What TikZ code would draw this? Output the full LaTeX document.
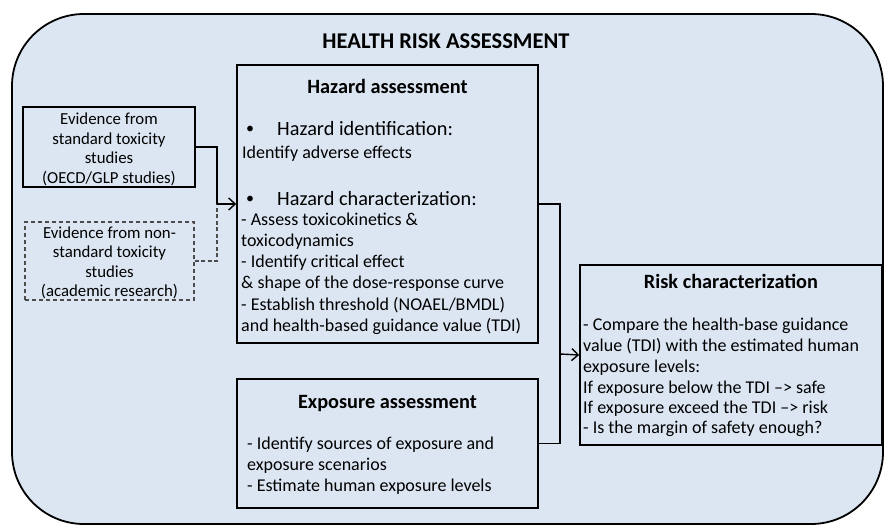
\documentclass[tikz,border=0pt]{standalone}
\usepackage{fontspec}
\usetikzlibrary{arrows.meta}
\setmainfont{Carlito}
\definecolor{panel}{HTML}{DCE6F2}
\begin{document}
\begin{tikzpicture}[x=1pt,y=-1pt,
  frame/.style={draw=black,line width=1.8pt,fill=panel},
  box/.style={draw=black,line width=1.6pt,fill=panel,rectangle,inner sep=0pt},
  srcbox/.style={draw=black,line width=1.4pt,fill=panel,rectangle,inner sep=0pt},
  dashbox/.style={draw=black!70,line width=1.1pt,dash pattern=on 4pt off 3pt,fill=panel,rectangle,inner sep=0pt},
  link/.style={draw=black,line width=1.4pt},
  dlink/.style={draw=black!70,line width=1.3pt,dash pattern=on 4pt off 2.5pt},
  tip/.style={-{Straight Barb[length=6.5pt,width=12pt,line width=1.4pt]}},
  txt/.style={inner sep=0pt,anchor=base west,font=\fontsize{18}{21}\selectfont},
  bul/.style={inner sep=0pt,anchor=base west,font=\fontsize{20.3}{24}\selectfont},
  dot/.style={inner sep=0pt,anchor=base west,font=\fontsize{16}{20}\selectfont},
  head/.style={inner sep=0pt,anchor=base,font=\fontsize{20.3}{24}\selectfont\bfseries},
  src/.style={inner sep=0pt,anchor=base,font=\fontsize{16.8}{20}\selectfont}]
\useasboundingbox (0,0) rectangle (885,525);

% outer panel
\draw[frame,rounded corners=72pt] (12,14) rectangle (883,524);
\node[head,font=\fontsize{22.5}{26}\selectfont\bfseries] (title) at (446,48) {HEALTH RISK ASSESSMENT};

% boxes
\node[srcbox,minimum width=172pt,minimum height=80pt] (std) at (109,147) {};
\node[dashbox,minimum width=169pt,minimum height=78pt] (dsh) at (109.5,261) {};
\node[box,minimum width=301pt,minimum height=278pt] (haz) at (387.5,204) {};
\node[box,minimum width=301pt,minimum height=129pt] (exp) at (387.5,443.5) {};
\node[box,minimum width=302pt,minimum height=180pt] (risk) at (731,355) {};

% evidence texts
\node[src] (s1) at (109,124) {Evidence from};
\node[src] (s2) at (109,144) {standard toxicity};
\node[src] (s3) at (109,163.5) {studies};
\node[src] (s4) at (109,183) {(OECD/GLP studies)};
\node[src] (d1) at (109.5,238) {Evidence from non-};
\node[src] (d2) at (109.5,257.5) {standard toxicity};
\node[src] (d3) at (109.5,277) {studies};
\node[src] (d4) at (109.5,296) {(academic research)};

% hazard assessment
\node[head] (hazT) at (387.5,93) {Hazard assessment};
\node[dot] (hb1) at (246,133) {\textbullet};
\node[bul] (hi) at (277,135) {Hazard identification:};
\node[txt] (h1) at (242,158) {Identify adverse effects};
\node[dot] (hb2) at (246,203) {\textbullet};
\node[bul] (hc) at (277,205) {Hazard characterization:};
\node[txt] (h2) at (241,225) {- Assess toxicokinetics \&};
\node[txt] (h3) at (241,246) {toxicodynamics};
\node[txt] (h4) at (241,267) {- Identify critical effect};
\node[txt] (h5) at (241,288.5) {\& shape of the dose-response curve};
\node[txt] (h6) at (241,310) {- Establish threshold (NOAEL/BMDL)};
\node[txt] (h7) at (241,331) {and health-based guidance value (TDI)};

% exposure assessment
\node[head] (expT) at (387.5,408) {Exposure assessment};
\node[txt] (e1) at (247,449) {- Identify sources of exposure and};
\node[txt] (e2) at (247,470) {exposure scenarios};
\node[txt] (e3) at (247,491) {- Estimate human exposure levels};

% risk characterization
\node[head] (riskT) at (731,288) {Risk characterization};
\node[txt] (r1) at (583,330) {- Compare the health-base guidance};
\node[txt] (r2) at (583,351.5) {value (TDI) with the estimated human};
\node[txt] (r3) at (583,372.5) {exposure levels:};
\node[txt] (r4) at (583,393) {If exposure below the TDI --> safe};
\node[txt] (r5) at (583,413) {If exposure exceed the TDI --> risk};
\node[txt] (r6) at (583,433) {- Is the margin of safety enough?};

% connectors
\coordinate (jl) at (217,204);
\coordinate (jr) at (560,354);
\draw[dlink] (dsh.east) -| (jl);
\draw[link] (std.east) -| (jl);
\draw[link,tip] (jl) -- (haz.west);
\draw[link] (haz.east) -| (jr);
\draw[link] (exp.east) -| (jr);
\draw[link,tip] (jr) -- (risk.west);
\end{tikzpicture}
\end{document}
